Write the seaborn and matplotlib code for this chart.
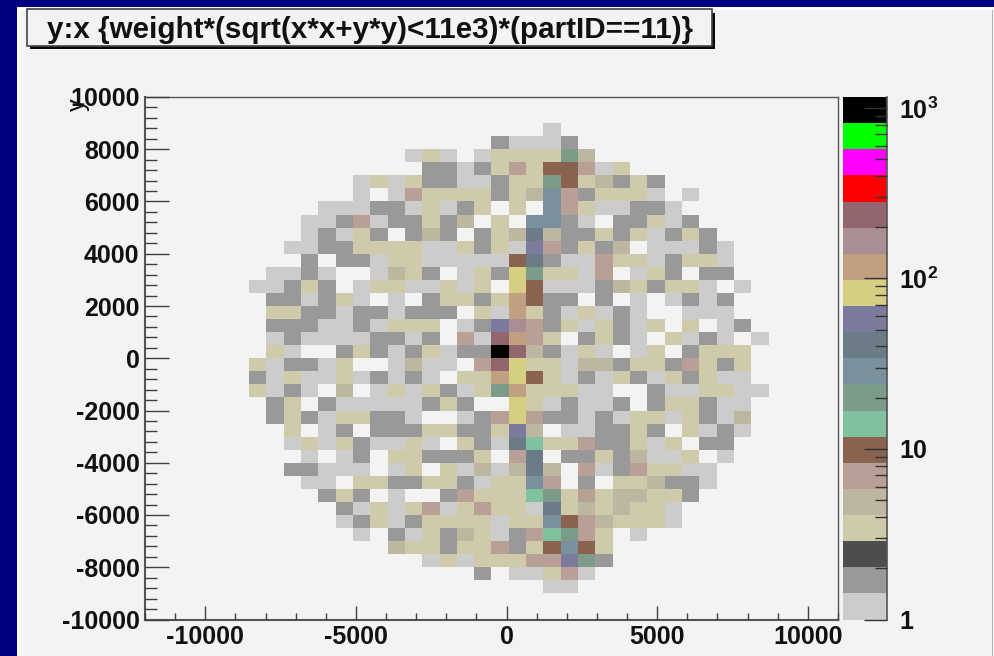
import numpy as np
import pandas as pd
import matplotlib
matplotlib.use('Agg')
import matplotlib.pyplot as plt
from matplotlib.colors import ListedColormap, LogNorm
from matplotlib.patches import Rectangle
import seaborn as sns

# each char is the colour level of one cell, rows go from y=10000 down, columns 6 to 35 of 40
cell_rows = [
    "..............................",
    "..............................",
    ".................a............",
    "..............baaab...........",
    ".........ada.addddie..........",
    "..........bbabdfdggfad........",
    "......adadbbaabddigdebdb......",
    "......a.afddddbdejfbddda.a....",
    "....aaabbadabd.d.jfdaabba.....",
    "...aabfabbdbe.d.jjba.bbdab....",
    "...abadb.beb.bdekebbdbdabdb...",
    "..aabbddddaadbdalfbdbe.aaaba..",
    "...b.bbaddaaaaagkbaafddabdda..",
    ".aaba..aedb.adbmiddaf.adb.bb..",
    "aabdb.addaadad.mgaaabedbdda.a.",
    ".bbabda.a.bddbdngbb.b.a.abab..",
    ".ddbbabbabbb.dandbadaba..aaa..",
    ".bbbaabaddd.ablofbdadbad.d.ab.",
    ".abaaaabbab.fapnfd.bdba.daba.a",
    ".da..bdbabdabbtpebada.ad.bddd.",
    "dabbad..aeaa.fpmddaeebddbfdbd.",
    "badaadababa.ddnmgdabadbadbdaa.",
    "daba.e.adadbadindddaa..baaddaa",
    ".bd.baaaaabdb..mdabaab.bddbaa.",
    ".bdbaddbba..abfmfbbabaddadbae.",
    "..d.ab.bbbddbbdle.aabbdb.daba.",
    "..adadbaada.dbakhddfbbdad.bb..",
    "...a.ab.ddbbbd.fk.bbdbeaad.a..",
    "..bbaaa.ad.daeaeke.fabfddaa...",
    "...aa.ddbbddbaddjf.b.ddebba...",
    "....bdb.a..bfdddhidfdeeddb....",
    ".....badadfadfddakdededda.....",
    ".....abdabddddaddjgfeddda.....",
    "......a.badbedabfhifd.a.......",
    "........eddbddfbdgjgd.........",
    "..........adadddfflib.........",
    ".............b.aadfa..........",
    ".................aa...........",
    "..............................",
    "..............................",
]
level_counts = {'a': 1, 'b': 2, 'd': 3, 'e': 5, 'f': 7, 'g': 10, 'h': 14, 'i': 20, 'j': 28,
                'k': 40, 'l': 56, 'm': 80, 'n': 115, 'o': 165, 'p': 235, 't': 1000}
level_colors = ['#CCCCCC', '#999999', '#4D4D4D', '#CFCAA9', '#BDB6A0', '#B9A097', '#8A6350',
                '#80C2A0', '#7C9B89', '#7A909C', '#6C7C87', '#7C7B9E', '#D5CF82', '#C0A080',
                '#A98E93', '#93666E', '#FF0000', '#FF00FF', '#00FF00', '#000000']
title_text = 'y:x {weight*(sqrt(x*x+y*y)<11e3)*(partID==11)}'
x_ticks = [-10000, -5000, 0, 5000, 10000]
y_ticks = [-10000, -8000, -6000, -4000, -2000, 0, 2000, 4000, 6000, 8000, 10000]
z_ticks = [1, 10, 100, 1000]
z_labels = ['1', '10', r'$\mathbf{10^{2}}$', r'$\mathbf{10^{3}}$']

W, H = 994, 656
sns.set_theme(style='ticks')
plt.rcParams['font.family'] = ['Liberation Sans', 'DejaVu Sans']
plt.rcParams['font.weight'] = 'bold'
plt.rcParams['axes.unicode_minus'] = False
plt.rcParams['mathtext.fontset'] = 'custom'
plt.rcParams['mathtext.bf'] = 'Liberation Sans:bold'
plt.rcParams['mathtext.rm'] = 'Liberation Sans:bold'

rows = []
for r, line in enumerate(cell_rows):
    for c, ch in enumerate(line):
        if ch != '.':
            rows.append({'x': -12000 + 575 * (c + 6 + 0.5), 'y': 10000 - 500 * (r + 0.5), 'n': level_counts[ch]})
df = pd.DataFrame(rows)


def box(x0, y0, x1, y1):
    # pixels from the top left to figure fractions
    return [x0 / W, 1 - y1 / H, (x1 - x0) / W, (y1 - y0) / H]


def addRect(x0, y0, x1, y1, color, **kw):
    b = box(x0, y0, x1, y1)
    fig.add_artist(Rectangle((b[0], b[1]), b[2], b[3], transform=fig.transFigure, facecolor=color,
                             edgecolor=kw.pop('edgecolor', 'none'), zorder=-5, **kw))


fig = plt.figure(figsize=(W / 100, H / 100), dpi=100, facecolor='#000080')
addRect(17, 7, W, H, '#FCFCFC')
addRect(21, 10, 992, H, '#F3F3F3')
addRect(992, 10, 993, H, '#B0B0B0')
addRect(30, 13, 715, 49, '#0A0A0A')
addRect(27, 9.5, 712, 46, '#F3F3F3', edgecolor='#444444', linewidth=1.2)
fig.text(370 / W, 1 - 30 / H, title_text, ha='center', va='center', fontsize=21.3, color='#111111')

ax = fig.add_axes(box(145, 97, 838, 619.5))
cax = fig.add_axes(box(843, 97, 887, 619.5))
ax.set_facecolor('#F3F3F3')

sns.histplot(df, x='x', y='y', weights='n', bins=40, binrange=((-12000, 11000), (-10000, 10000)),
             cmap=ListedColormap(level_colors), cbar=False, ax=ax)
mesh = ax.collections[0]
mesh.set_norm(LogNorm(1, 1160))
cbar = fig.colorbar(mesh, cax=cax)

ax.set_axisbelow(False)
ax.set_xlim(-12000, 11000)
ax.set_ylim(-10000, 10000)
ax.set_xticks(x_ticks)
ax.set_xticks(np.arange(-12000, 11001, 1000), minor=True)
ax.set_yticks(y_ticks)
ax.set_yticks(np.arange(-10000, 10001, 400), minor=True)
ax.tick_params(axis='x', which='major', direction='in', length=10, width=1, color='#404040', labelsize=18, pad=4, labelcolor='#111111')
ax.tick_params(axis='x', which='minor', direction='in', length=5, width=1, color='#404040')
ax.tick_params(axis='y', which='major', direction='in', length=17, width=1, color='#404040', labelsize=18, pad=4, labelcolor='#111111')
ax.tick_params(axis='y', which='minor', direction='in', length=8.5, width=1, color='#404040')
for side in ax.spines:
    ax.spines[side].set_visible(True)
    ax.spines[side].set_color('#555555')
    ax.spines[side].set_linewidth(1.0)
ax.spines['left'].set_linewidth(1.5)
ax.spines['bottom'].set_linewidth(1.5)

ax.set_ylabel('y', rotation=90, fontsize=18, color='#111111')
ax.yaxis.set_label_coords(-0.08, 0.985)
ax.set_xlabel('x', fontsize=18, color='#111111')
ax.xaxis.set_label_coords(0.99, -0.06)
ax.xaxis.label.set_va('top')

cbar.outline.set_visible(False)
cax.set_axisbelow(False)
cax.yaxis.set_ticks(z_ticks, labels=z_labels)
cax.yaxis.set_ticks([2, 3, 4, 5, 6, 7, 8, 9, 20, 30, 40, 50, 60, 70, 80, 90, 200, 300, 400, 500, 600, 700, 800, 900], labels=[], minor=True)
cax.tick_params(axis='y', which='major', direction='in', length=16.5, width=1, color='#333333', labelsize=18, pad=9, labelcolor='#111111', right=True, left=False)
cax.tick_params(axis='y', which='minor', direction='in', length=8.5, width=1, color='#333333', right=True, left=False)
cax.spines['right'].set_visible(True)
cax.spines['right'].set_color('#555555')
cax.spines['right'].set_linewidth(1.2)

fig.savefig('out.png', dpi=100, facecolor=fig.get_facecolor())
